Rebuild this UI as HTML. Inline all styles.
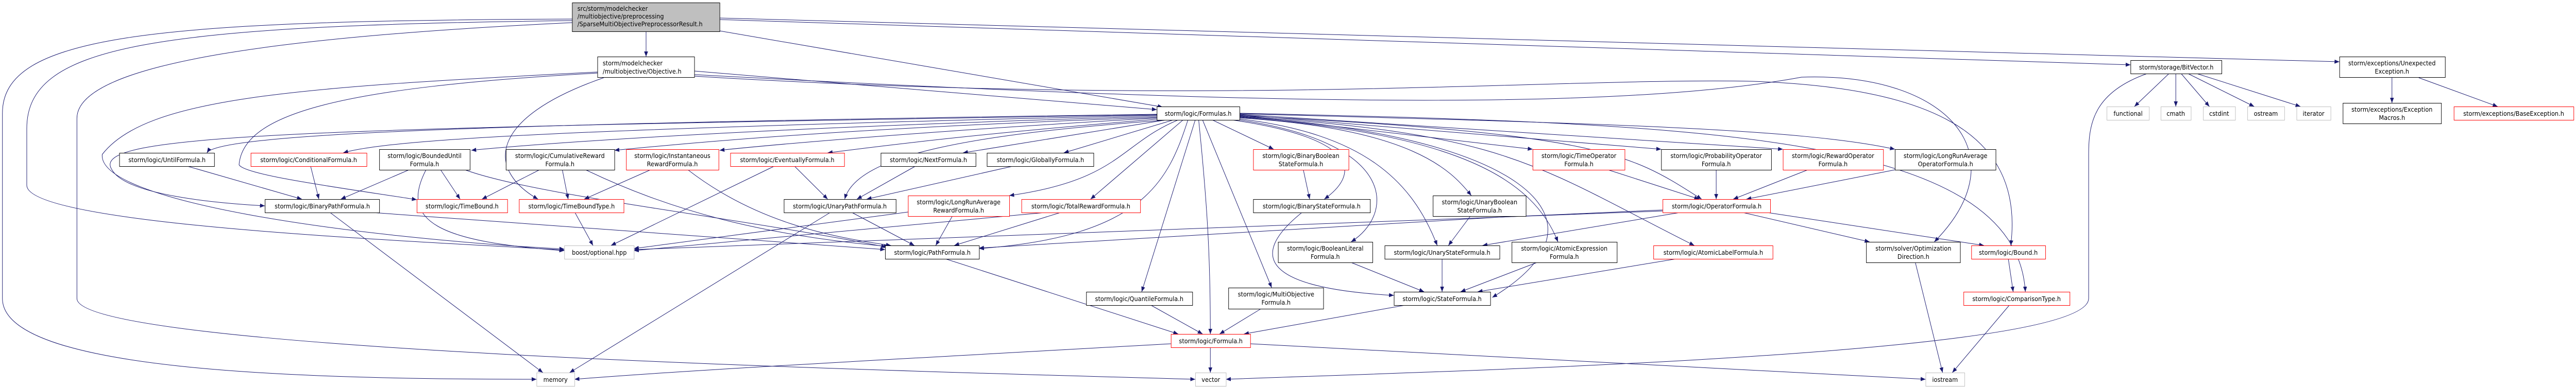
<!DOCTYPE html>
<html><head><meta charset="utf-8"><style>
html,body{margin:0;padding:0;background:#fff;width:100%;height:100%;overflow:hidden;}
svg{display:block;position:absolute;left:0;top:0;width:100vw;height:100vh;}
text{font-family:"DejaVu Sans","Liberation Sans",sans-serif;font-size:12px;fill:#000;}
.e{fill:none;stroke:#191970;stroke-width:1;}
.n{fill:#fff;stroke:#000;stroke-width:1;}
.r{fill:#fff;stroke:#f00;stroke-width:1;}
.g{fill:#fff;stroke:#bfbfbf;stroke-width:1;}
</style></head><body>
<svg viewBox="0 0 5291 752" preserveAspectRatio="none" xmlns="http://www.w3.org/2000/svg" overflow="hidden">
<defs><marker id="a" markerWidth="10" markerHeight="8" refX="10" refY="4" orient="auto" markerUnits="userSpaceOnUse"><path d="M0,0 L10,4 L0,8 Z" fill="#191970"/></marker></defs>
<g class="e" marker-end="url(#a)">
<path d="M1327 61 L1327 110"/>
<path d="M1478 60 L2388 208"/>
<path d="M1478 38 L4376 126"/>
<path d="M1478 35 L4805 120"/>
<path d="M1175 37 C300 40,5 70,5 220 L5 580 C5 720,600 737,1102 737"/>
<path d="M1175 40 C300 50,55 90,55 250 L55 360 C55 440,900 470,1159 486"/>
<path d="M1175 44 C600 70,158 120,158 230 L158 580 C158 680,1800 720,2455 737"/>
<path d="M1426 138 L2376 213"/>
<path d="M1240 151 C1000 230,1000 330,1105 387"/>
<path d="M1227 140 C600 170,300 190,210 300 C200 390,700 460,1159 484"/>
<path d="M1227 142 C700 170,500 220,491 320 C500 340,700 365,856 388"/>
<path d="M1426 145 C2500 200,3300 220,3700 150 C4000 140,4150 300,3973 470"/>
<path d="M1426 148 C2500 210,3200 150,3600 158 C3950 170,4160 250,4130 477"/>
<path d="M2378 222 C1000 240,450 260,425 297"/>
<path d="M2378 223 C600 250,180 260,230 330 C260 380,450 395,544 400"/>
<path d="M2378 224 C1200 250,800 270,705 297"/>
<path d="M2380 226 C1500 250,1100 280,968 292"/>
<path d="M2380 228 C1700 250,1400 280,1262 292"/>
<path d="M2382 229 C1900 255,1600 280,1478 292"/>
<path d="M2385 231 C2000 260,1800 285,1700 297"/>
<path d="M2395 233 L1978 297"/>
<path d="M2410 233 L2185 297"/>
<path d="M2400 233 C2000 260,1760 300,1735 387"/>
<path d="M2420 233 C2300 280,2300 350,2073 380"/>
<path d="M2430 233 L2240 387"/>
<path d="M2440 233 C2400 350,2350 460,2011 483"/>
<path d="M2455 233 L2345 567"/>
<path d="M2462 233 C2480 400,2486 500,2486 649"/>
<path d="M2470 233 L2612 559"/>
<path d="M2490 233 L2616 290"/>
<path d="M2530 233 C2800 270,2790 340,2720 387"/>
<path d="M2546 233 C2880 280,2860 420,2775 470"/>
<path d="M2546 231 C2800 260,2900 350,2952 477"/>
<path d="M2546 229 C2900 250,2980 330,3022 380"/>
<path d="M2546 228 C3000 260,3150 350,3200 470"/>
<path d="M2546 227 C3100 260,3340 420,3065 578"/>
<path d="M2546 226 C3100 260,3150 320,3480 477"/>
<path d="M2546 225 C3300 260,3350 300,3495 387"/>
<path d="M2546 224 L3148 290"/>
<path d="M2546 223 L3412 290"/>
<path d="M2546 222 L3662 290"/>
<path d="M2546 221 C3300 240,3700 250,3892 290"/>
<path d="M2546 220 C3500 240,4140 260,4160 567"/>
<path d="M385 323 L620 387"/>
<path d="M638 323 L655 387"/>
<path d="M840 330 L700 387"/>
<path d="M905 330 L945 387"/>
<path d="M875 330 C820 430,900 470,1159 487"/>
<path d="M955 330 C1100 380,1500 420,1820 480"/>
<path d="M1108 330 L990 387"/>
<path d="M1155 330 L1167 387"/>
<path d="M1203 330 C1400 420,1600 460,1825 479"/>
<path d="M1336 330 L1200 387"/>
<path d="M1413 330 C1550 430,1700 460,1830 477"/>
<path d="M1590 323 L1255 477"/>
<path d="M1632 323 L1700 387"/>
<path d="M1880 323 L1760 387"/>
<path d="M2080 323 L1780 387"/>
<path d="M1181 413 L1218 477"/>
<path d="M765 413 L1818 485"/>
<path d="M678 413 L1115 724"/>
<path d="M1705 413 L1170 724"/>
<path d="M1750 413 L1878 477"/>
<path d="M1956 420 L1922 477"/>
<path d="M1865 412 L1302 483"/>
<path d="M2146 413 L1302 487"/>
<path d="M2178 413 L1960 477"/>
<path d="M1942 503 L2420 649"/>
<path d="M2677 330 L2690 387"/>
<path d="M2674 413 C2560 500,2600 560,2863 574"/>
<path d="M3020 420 L2975 477"/>
<path d="M2962 503 L2962 567"/>
<path d="M2775 510 L2925 567"/>
<path d="M3157 510 L3000 567"/>
<path d="M3443 503 L3035 567"/>
<path d="M2362 592 L2470 649"/>
<path d="M2590 600 L2505 649"/>
<path d="M2892 592 L2555 649"/>
<path d="M3303 330 L3490 387"/>
<path d="M3525 330 L3525 387"/>
<path d="M3713 330 L3560 387"/>
<path d="M3892 330 L3587 387"/>
<path d="M3415 408 L3080 422 L2011 482"/>
<path d="M3415 410 L1302 485"/>
<path d="M3450 413 L3045 477"/>
<path d="M3580 413 L3840 470"/>
<path d="M3630 413 L4075 477"/>
<path d="M3934 510 L3990 724"/>
<path d="M4128 592 L4010 724"/>
<path d="M4125 503 L4135 567"/>
<path d="M2486 675 L2486 724"/>
<path d="M2405 668 C1800 700,1400 720,1180 737"/>
<path d="M2568 668 L3955 737"/>
<path d="M4410 143 C4300 180,4290 240,4290 300 L4290 580 C4290 690,3000 720,2518 737"/>
<path d="M4455 143 L4384 207"/>
<path d="M4469 143 L4469 207"/>
<path d="M4480 143 L4538 207"/>
<path d="M4494 143 L4630 207"/>
<path d="M4512 143 L4725 207"/>
<path d="M4913 151 L4913 200"/>
<path d="M4968 151 L5130 207"/>
</g>
<rect x="1175.5" y="5.5" width="303" height="56" fill="#bfbfbf" stroke="#000"/>
<text x="1186" y="21">src/storm/modelchecker</text><text x="1186" y="36">/multiobjective/preprocessing</text><text x="1186" y="51">/SparseMultiObjectivePreprocessorResult.h</text>
<rect class="n" x="1227.5" y="110.5" width="199" height="40"/>
<text x="1238" y="127">storm/modelchecker</text><text x="1238" y="143">/multiobjective/Objective.h</text>
<rect class="n" x="2376.5" y="207.5" width="170" height="26"/><text x="2461" y="225" text-anchor="middle">storm/logic/Formulas.h</text>
<rect class="n" x="4376.5" y="117.5" width="187" height="26"/><text x="4470" y="135" text-anchor="middle">storm/storage/BitVector.h</text>
<rect class="n" x="4805.5" y="110.5" width="217" height="40"/><text x="4913" y="127" text-anchor="middle">storm/exceptions/Unexpected</text><text x="4913" y="143" text-anchor="middle">Exception.h</text>
<rect class="n" x="4812.5" y="200.5" width="202" height="40"/><text x="4913" y="217" text-anchor="middle">storm/exceptions/Exception</text><text x="4913" y="233" text-anchor="middle">Macros.h</text>
<rect class="r" x="5040.5" y="207.5" width="246" height="26"/><text x="5163" y="225" text-anchor="middle">storm/exceptions/BaseException.h</text>
<rect class="g" x="4327.5" y="207.5" width="87" height="26"/><text x="4371" y="225" text-anchor="middle">functional</text>
<rect class="g" x="4438.5" y="207.5" width="62" height="26"/><text x="4469" y="225" text-anchor="middle">cmath</text>
<rect class="g" x="4525.5" y="207.5" width="66" height="26"/><text x="4558" y="225" text-anchor="middle">cstdint</text>
<rect class="g" x="4616.5" y="207.5" width="76" height="26"/><text x="4654" y="225" text-anchor="middle">ostream</text>
<rect class="g" x="4717.5" y="207.5" width="70" height="26"/><text x="4752" y="225" text-anchor="middle">iterator</text>
<rect class="n" x="245.5" y="297.5" width="195" height="26"/><text x="343" y="315" text-anchor="middle">storm/logic/UntilFormula.h</text>
<rect class="r" x="515.5" y="297.5" width="238" height="26"/><text x="634" y="315" text-anchor="middle">storm/logic/ConditionalFormula.h</text>
<rect class="n" x="779.5" y="290.5" width="186" height="40"/><text x="872" y="307" text-anchor="middle">storm/logic/BoundedUntil</text><text x="872" y="323" text-anchor="middle">Formula.h</text>
<rect class="n" x="1039.5" y="290.5" width="223" height="40"/><text x="1150" y="307" text-anchor="middle">storm/logic/CumulativeReward</text><text x="1150" y="323" text-anchor="middle">Formula.h</text>
<rect class="r" x="1286.5" y="290.5" width="190" height="40"/><text x="1381" y="307" text-anchor="middle">storm/logic/Instantaneous</text><text x="1381" y="323" text-anchor="middle">RewardFormula.h</text>
<rect class="r" x="1500.5" y="297.5" width="234" height="26"/><text x="1617" y="315" text-anchor="middle">storm/logic/EventuallyFormula.h</text>
<rect class="n" x="1809.5" y="297.5" width="195" height="26"/><text x="1907" y="315" text-anchor="middle">storm/logic/NextFormula.h</text>
<rect class="n" x="2027.5" y="297.5" width="219" height="26"/><text x="2137" y="315" text-anchor="middle">storm/logic/GloballyFormula.h</text>
<rect class="r" x="2574.5" y="290.5" width="196" height="40"/><text x="2672" y="307" text-anchor="middle">storm/logic/BinaryBoolean</text><text x="2672" y="323" text-anchor="middle">StateFormula.h</text>
<rect class="r" x="3148.5" y="290.5" width="189" height="40"/><text x="3243" y="307" text-anchor="middle">storm/logic/TimeOperator</text><text x="3243" y="323" text-anchor="middle">Formula.h</text>
<rect class="n" x="3412.5" y="290.5" width="226" height="40"/><text x="3525" y="307" text-anchor="middle">storm/logic/ProbabilityOperator</text><text x="3525" y="323" text-anchor="middle">Formula.h</text>
<rect class="r" x="3662.5" y="290.5" width="206" height="40"/><text x="3765" y="307" text-anchor="middle">storm/logic/RewardOperator</text><text x="3765" y="323" text-anchor="middle">Formula.h</text>
<rect class="n" x="3892.5" y="290.5" width="207" height="40"/><text x="3996" y="307" text-anchor="middle">storm/logic/LongRunAverage</text><text x="3996" y="323" text-anchor="middle">OperatorFormula.h</text>
<rect class="n" x="544.5" y="387.5" width="235" height="26"/><text x="662" y="405" text-anchor="middle">storm/logic/BinaryPathFormula.h</text>
<rect class="r" x="856.5" y="387.5" width="186" height="26"/><text x="949" y="405" text-anchor="middle">storm/logic/TimeBound.h</text>
<rect class="r" x="1066.5" y="387.5" width="215" height="26"/><text x="1174" y="405" text-anchor="middle">storm/logic/TimeBoundType.h</text>
<rect class="n" x="1610.5" y="387.5" width="230" height="26"/><text x="1725" y="405" text-anchor="middle">storm/logic/UnaryPathFormula.h</text>
<rect class="r" x="1865.5" y="380.5" width="208" height="40"/><text x="1969" y="397" text-anchor="middle">storm/logic/LongRunAverage</text><text x="1969" y="413" text-anchor="middle">RewardFormula.h</text>
<rect class="r" x="2098.5" y="387.5" width="244" height="26"/><text x="2220" y="405" text-anchor="middle">storm/logic/TotalRewardFormula.h</text>
<rect class="n" x="2574.5" y="387.5" width="240" height="26"/><text x="2694" y="405" text-anchor="middle">storm/logic/BinaryStateFormula.h</text>
<rect class="n" x="2943.5" y="380.5" width="191" height="40"/><text x="3039" y="397" text-anchor="middle">storm/logic/UnaryBoolean</text><text x="3039" y="413" text-anchor="middle">StateFormula.h</text>
<rect class="r" x="3415.5" y="387.5" width="221" height="26"/><text x="3526" y="405" text-anchor="middle">storm/logic/OperatorFormula.h</text>
<rect class="g" x="1159.5" y="477.5" width="143" height="26"/><text x="1231" y="495" text-anchor="middle">boost/optional.hpp</text>
<rect class="n" x="1818.5" y="477.5" width="193" height="26"/><text x="1915" y="495" text-anchor="middle">storm/logic/PathFormula.h</text>
<rect class="n" x="2625.5" y="470.5" width="194" height="40"/><text x="2722" y="487" text-anchor="middle">storm/logic/BooleanLiteral</text><text x="2722" y="503" text-anchor="middle">Formula.h</text>
<rect class="n" x="2844.5" y="477.5" width="236" height="26"/><text x="2962" y="495" text-anchor="middle">storm/logic/UnaryStateFormula.h</text>
<rect class="n" x="3105.5" y="470.5" width="216" height="40"/><text x="3213" y="487" text-anchor="middle">storm/logic/AtomicExpression</text><text x="3213" y="503" text-anchor="middle">Formula.h</text>
<rect class="r" x="3396.5" y="477.5" width="245" height="26"/><text x="3519" y="495" text-anchor="middle">storm/logic/AtomicLabelFormula.h</text>
<rect class="n" x="3833.5" y="470.5" width="193" height="40"/><text x="3930" y="487" text-anchor="middle">storm/solver/Optimization</text><text x="3930" y="503" text-anchor="middle">Direction.h</text>
<rect class="r" x="4049.5" y="477.5" width="152" height="26"/><text x="4125" y="495" text-anchor="middle">storm/logic/Bound.h</text>
<rect class="n" x="2231.5" y="567.5" width="218" height="26"/><text x="2340" y="585" text-anchor="middle">storm/logic/QuantileFormula.h</text>
<rect class="n" x="2523.5" y="559.5" width="195" height="41"/><text x="2621" y="576" text-anchor="middle">storm/logic/MultiObjective</text><text x="2621" y="592" text-anchor="middle">Formula.h</text>
<rect class="n" x="2863.5" y="567.5" width="198" height="26"/><text x="2962" y="585" text-anchor="middle">storm/logic/StateFormula.h</text>
<rect class="r" x="4033.5" y="567.5" width="218" height="26"/><text x="4142" y="585" text-anchor="middle">storm/logic/ComparisonType.h</text>
<rect class="r" x="2405.5" y="649.5" width="163" height="26"/><text x="2487" y="667" text-anchor="middle">storm/logic/Formula.h</text>
<rect class="g" x="1102.5" y="724.5" width="78" height="26"/><text x="1141" y="742" text-anchor="middle">memory</text>
<rect class="g" x="2455.5" y="724.5" width="63" height="26"/><text x="2487" y="742" text-anchor="middle">vector</text>
<rect class="g" x="3955.5" y="724.5" width="80" height="26"/><text x="3995" y="742" text-anchor="middle">iostream</text>
</svg>
</body></html>
